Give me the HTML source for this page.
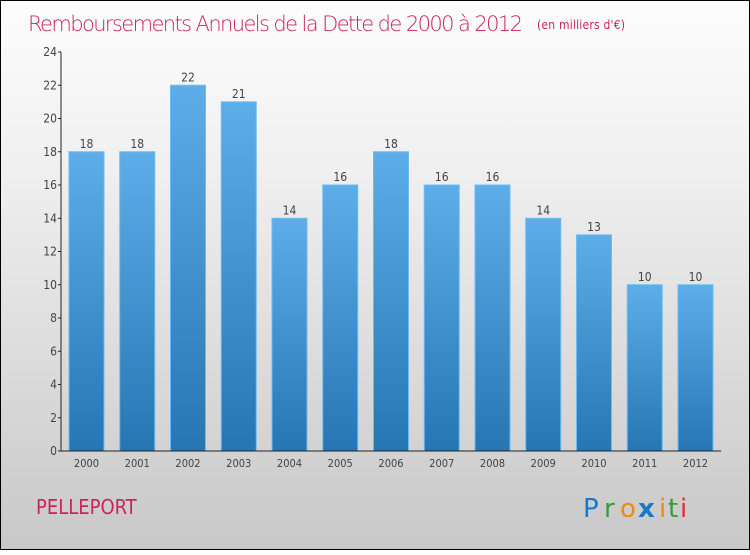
<!DOCTYPE html>
<html><head><meta charset="utf-8"><style>
body{margin:0;width:750px;height:550px;overflow:hidden;font-family:"DejaVu Sans Condensed","Liberation Sans",sans-serif}
#c{position:absolute;left:0;top:0;width:748px;height:548px;border:1px solid #000;background:linear-gradient(#fdfdfd,#f0f0f0 30%,#c8c8c8)}
</style></head><body>
<div id="c">
<svg width="750" height="550">
<defs><linearGradient id="g" x1="0" y1="0" x2="0" y2="1"><stop offset="0" stop-color="#5daee8"/><stop offset="1" stop-color="#2576b3"/></linearGradient></defs>
<text x="27" y="30" font-size="21" fill="#c8255a" style="font-family:'DejaVu Sans','Liberation Sans',sans-serif;font-weight:200" textLength="495">Remboursements Annuels de la Dette de 2000 à 2012</text>
<text x="536" y="28" font-size="12" fill="#c8255a" textLength="88">(en milliers d'€)</text>
<g id="plot"></g>
<text x="35" y="513" font-size="20" fill="#c8255a">PELLEPORT</text>
<g font-size="26" style="font-family:'DejaVu Sans',sans-serif">
<text x="582" y="516" fill="#1a78c8">P</text><text x="603" y="516" fill="#3a9a3a">r</text><text x="619" y="516" fill="#f08a10">o</text><text x="637" y="516" fill="#1a78c8" font-weight="bold">x</text><text x="658" y="516" fill="#f08a10">i</text><text x="667" y="516" fill="#3a9a3a">t</text><text x="679" y="516" fill="#e03030">i</text>
</g>
</svg></div>
<script>
const years=["2000","2001","2002","2003","2004","2005","2006","2007","2008","2009","2010","2011","2012"];
const values=[18,18,22,21,14,16,18,16,16,14,13,10,10];
const yTicks=[0,2,4,6,8,10,12,14,16,18,20,22,24];
const NS="http://www.w3.org/2000/svg",g=document.getElementById('plot');
const y0=450,yTop=51,yMax=24,x0=60,pitch=50.75,bw=35,bx0=68;
const Y=v=>y0-(y0-yTop)*v/yMax, X=i=>bx0+i*pitch;
function el(t,a,txt){const e=document.createElementNS(NS,t);for(const k in a)e.setAttribute(k,a[k]);if(txt!=null)e.textContent=txt;g.appendChild(e);return e;}
values.forEach((v,i)=>{
 const r=el('rect',{x:X(i),y:Y(v),width:bw,height:y0-Y(v),fill:'url(#g)',stroke:'#6cbcf0','stroke-width':1});
 
 
 const t=el('text',{x:X(i)+bw/2,y:Y(v)-4,'text-anchor':'middle','font-size':12,fill:'#444'},v);
 
 
 const xl=el('text',{x:X(i)+bw/2,y:466,'text-anchor':'middle','font-size':11,fill:'#444'},years[i]);
 
 
});
yTicks.forEach(v=>{
 const l=el('line',{x1:x0-3,x2:x0,y1:Y(v),y2:Y(v),stroke:'#222'});
 
 
 const t=el('text',{x:x0-4,y:Y(v)+4,'text-anchor':'end','font-size':12,fill:'#444'},v);
 
 
});
const ya=el('line',{x1:x0,x2:x0,y1:yTop,y2:y0,stroke:'#222'});


const xa=el('line',{x1:x0,x2:720,y1:y0,y2:y0,stroke:'#222'});


</script>
</body></html>
